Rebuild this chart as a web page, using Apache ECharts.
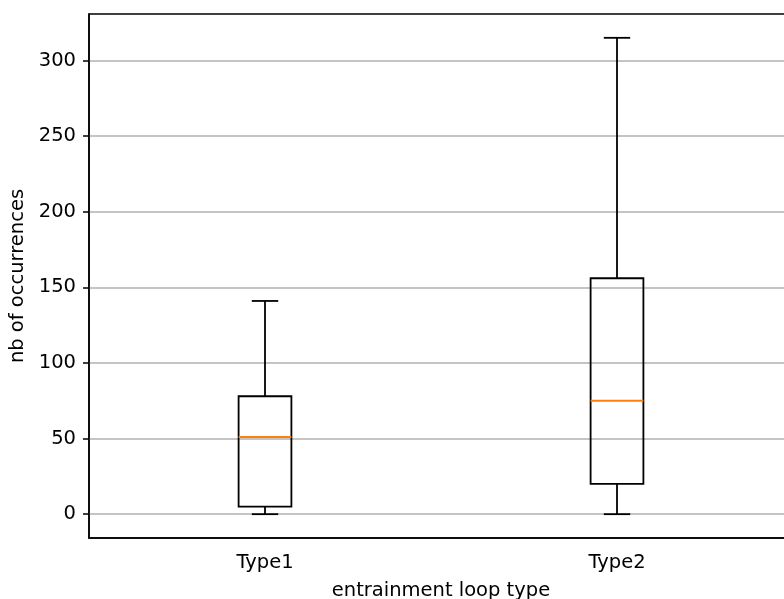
<!DOCTYPE html>
<html><head><meta charset="utf-8">
<script src="https://cdn.jsdelivr.net/npm/echarts@6/dist/echarts.min.js"></script>
<style>html,body{margin:0;padding:0;background:#fff}#c{width:784px;height:599px}</style>
</head><body><div id="c"></div>
<script>
const categories = ['Type1', 'Type2'];
const whiskerLow = [0, 0];
const q1 = [5, 20];
const median = [51, 75];
const q3 = [78, 156];
const whiskerHigh = [141, 315];
const yTicks = [0, 50, 100, 150, 200, 250, 300];

const FONT = 'DejaVu Sans';
const FS = 19.5;
const chart = echarts.init(document.getElementById('c'), null, {renderer: 'canvas'});
const data = categories.map((c, i) => [i, whiskerLow[i], q1[i], median[i], q3[i], whiskerHigh[i]]);

function renderItem(params, api) {
  const x = api.value(0);
  const pLow = api.coord([x, api.value(1)]);
  const pQ1 = api.coord([x, api.value(2)]);
  const pMed = api.coord([x, api.value(3)]);
  const pQ3 = api.coord([x, api.value(4)]);
  const pHigh = api.coord([x, api.value(5)]);
  const band = api.size([1, 0])[0];
  const bw = band * 0.15;
  const cw = bw / 2;
  const cx = pMed[0];
  const lw = 1.8;
  const st = {stroke: '#000', lineWidth: lw, fill: null};
  return {
    type: 'group',
    children: [
      {type: 'rect', shape: {x: cx - bw / 2, y: pQ3[1], width: bw, height: pQ1[1] - pQ3[1]}, style: {stroke: '#000', lineWidth: lw, fill: 'none'}},
      {type: 'line', shape: {x1: cx, y1: pQ3[1], x2: cx, y2: pHigh[1]}, style: st},
      {type: 'line', shape: {x1: cx, y1: pQ1[1], x2: cx, y2: pLow[1]}, style: st},
      {type: 'line', shape: {x1: cx - cw / 2, y1: pHigh[1], x2: cx + cw / 2, y2: pHigh[1]}, style: st},
      {type: 'line', shape: {x1: cx - cw / 2, y1: pLow[1], x2: cx + cw / 2, y2: pLow[1]}, style: st},
      {type: 'line', shape: {x1: cx - bw / 2, y1: pMed[1], x2: cx + bw / 2, y2: pMed[1]}, style: {stroke: '#ff7f0e', lineWidth: 2}}
    ]
  };
}

chart.setOption({
  animation: false,
  backgroundColor: '#fff',
  grid: {left: 89, top: 14, right: -9, bottom: 61, outerBoundsMode: 'none', containLabel: false,
         show: true, borderColor: '#000', borderWidth: 1.5},
  xAxis: {
    type: 'category', data: categories, boundaryGap: true,
    name: 'entrainment loop type', nameLocation: 'middle', nameGap: 43,
    nameTextStyle: {fontFamily: FONT, fontSize: FS, color: '#000'},
    axisLine: {onZero: false, lineStyle: {color: '#000', width: 1.5}},
    axisTick: {alignWithLabel: true, length: 6, lineStyle: {color: '#000', width: 1.5}},
    axisLabel: {fontFamily: FONT, fontSize: FS, color: '#000', margin: 15},
    splitLine: {show: false}
  },
  yAxis: {
    type: 'value', min: -15.75, max: 330.75,
    name: 'nb of occurrences', nameLocation: 'middle', nameRotate: 90, nameGap: 57,
    nameTextStyle: {fontFamily: FONT, fontSize: FS, color: '#000'},
    axisLine: {show: true, onZero: false, lineStyle: {color: '#000', width: 1.5}},
    axisTick: {show: true, length: 6, customValues: yTicks, lineStyle: {color: '#000', width: 1.5}},
    axisLabel: {fontFamily: FONT, fontSize: FS, color: '#000', margin: 13, customValues: yTicks},
    splitLine: {show: true, lineStyle: {color: '#b0b0b0', width: 1.5}}
  },
  series: [{
    type: 'custom', renderItem: renderItem, data: data,
    encode: {x: 0, y: [1, 2, 3, 4, 5]}, clip: false
  }]
});
</script></body></html>
